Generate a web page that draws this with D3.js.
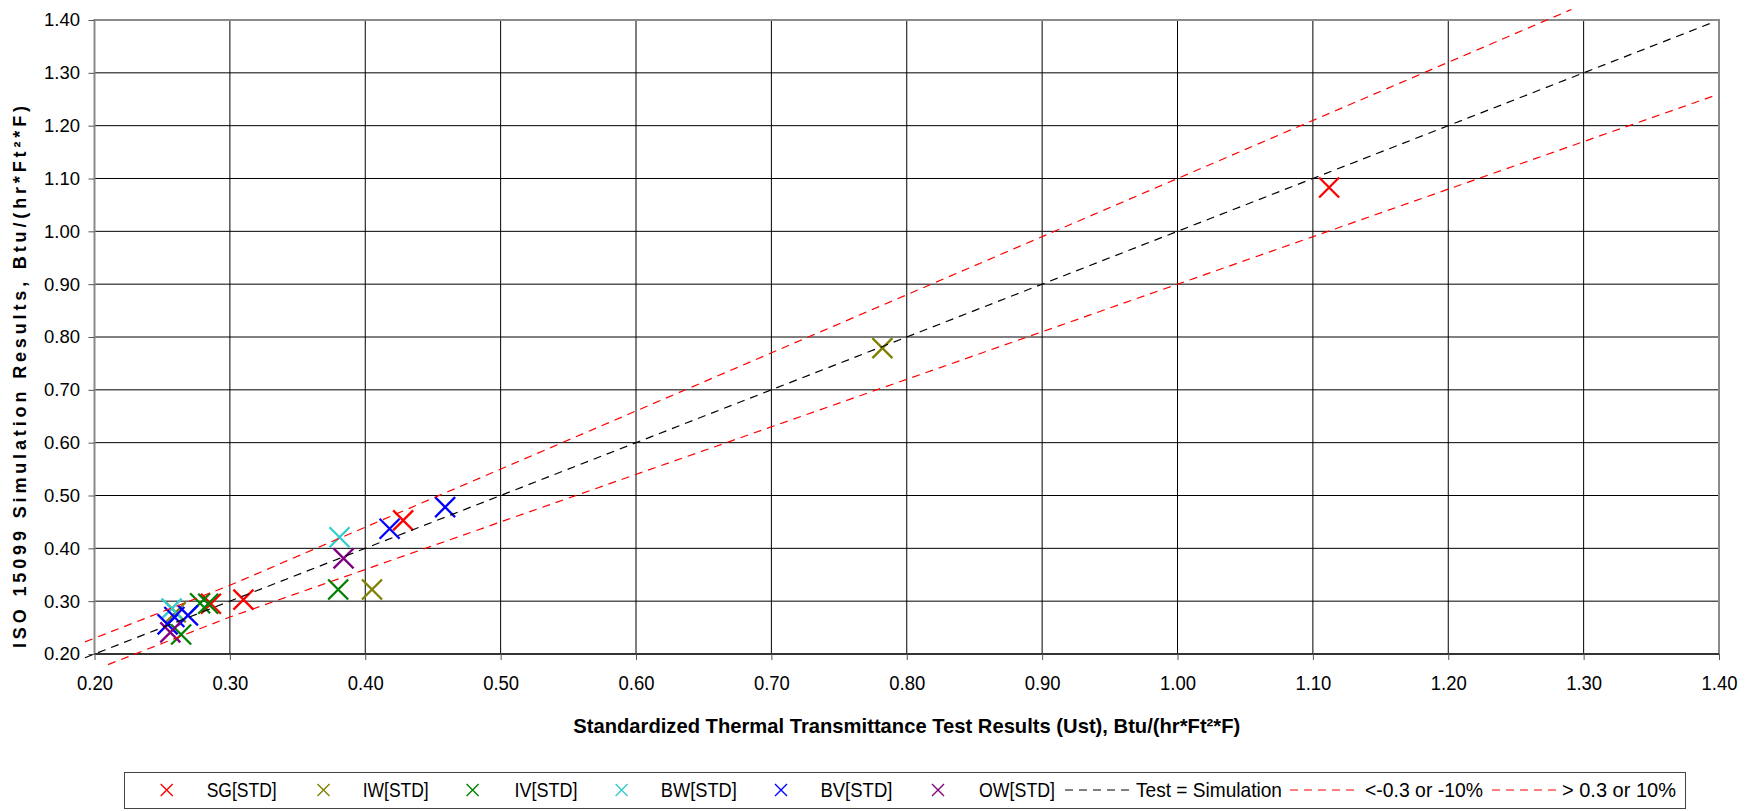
<!DOCTYPE html>
<html>
<head>
<meta charset="utf-8">
<script src="https://cdn.jsdelivr.net/npm/d3@7"></script>
<style>
body { margin: 0; background: #fff; }
svg { display: block; }
text { font-family: Arial, "Liberation Sans", sans-serif; fill: #000; }
</style>
</head>
<body>
<div id="chart-area"></div>
<script>
// ---- data ----
var seriesNames = ["SG[STD]", "IW[STD]", "IV[STD]", "BW[STD]", "BV[STD]", "OW[STD]"];

var sgX = [0.286, 0.310, 0.428, 1.112];
var sgY = [0.295, 0.303, 0.453, 1.083];

var iwX = [0.260, 0.405, 0.782];
var iwY = [0.279, 0.322, 0.779];

var ivX = [0.278, 0.284, 0.264, 0.380];
var ivY = [0.296, 0.295, 0.237, 0.322];

var bwX = [0.257, 0.381];
var bwY = [0.286, 0.421];

var bvX = [0.254, 0.259, 0.269, 0.418, 0.459];
var bvY = [0.256, 0.270, 0.273, 0.437, 0.478];

var owX = [0.256, 0.384];
var owY = [0.241, 0.381];

// reference lines
var equalX = [0.193, 1.395];
var equalY = [0.193, 1.395];
var upperX = [0.193, 0.30, 1.291];
var upperY = [0.223, 0.33, 1.420];
var lowerX = [0.210, 0.30, 1.398];
var lowerY = [0.180, 0.27, 1.258];

var xTicks = [0.2, 0.3, 0.4, 0.5, 0.6, 0.7, 0.8, 0.9, 1.0, 1.1, 1.2, 1.3, 1.4];
var yTicks = [0.2, 0.3, 0.4, 0.5, 0.6, 0.7, 0.8, 0.9, 1.0, 1.1, 1.2, 1.3, 1.4];

var lineNames = ["Test = Simulation", "<-0.3 or -10%", "> 0.3 or 10%"];

// ---- layout ----
var W = 1758, H = 811;
var margin = { left: 94.5, right: 1719, top: 20, bottom: 654 };
var colors = ["#ff0000", "#808000", "#008000", "#33cccc", "#0000ff", "#800080"];

var svg = d3.select("#chart-area")
    .append("svg")
        .attr("width", W)
        .attr("height", H);

var x = d3.scaleLinear().domain([0.2, 1.4]).range([margin.left, margin.right]);
var y = d3.scaleLinear().domain([0.2, 1.4]).range([margin.bottom, margin.top]);

// grid
svg.append("g").selectAll("line")
    .data(xTicks.slice(1, -1))
    .enter().append("line")
        .attr("x1", function(d){ return x(d); })
        .attr("x2", function(d){ return x(d); })
        .attr("y1", margin.top)
        .attr("y2", margin.bottom)
        .attr("stroke", "#000")
        .attr("stroke-width", 1);

svg.append("g").selectAll("line")
    .data(yTicks.slice(1, -1))
    .enter().append("line")
        .attr("x1", margin.left)
        .attr("x2", margin.right)
        .attr("y1", function(d){ return y(d); })
        .attr("y2", function(d){ return y(d); })
        .attr("stroke", "#000")
        .attr("stroke-width", 1);

// frame
svg.append("rect")
    .attr("x", margin.left)
    .attr("y", margin.top)
    .attr("width", margin.right - margin.left)
    .attr("height", margin.bottom - margin.top)
    .attr("fill", "none")
    .attr("stroke", "#8a8a8a")
    .attr("stroke-width", 2);
svg.append("line")
    .attr("x1", margin.left).attr("x2", margin.right)
    .attr("y1", margin.bottom).attr("y2", margin.bottom)
    .attr("stroke", "#333")
    .attr("stroke-width", 2);

// axes
var fmt = d3.format(".2f");
var yAxis = svg.append("g")
    .attr("transform", "translate(" + margin.left + ",0)")
    .call(d3.axisLeft(y).tickValues(yTicks).tickFormat(fmt).tickSize(6).tickPadding(8.5));
yAxis.select(".domain").remove();
yAxis.selectAll("line").attr("stroke", "#555");
yAxis.selectAll("text")
    .attr("font-size", "18.5px")
    .attr("font-family", "Arial, 'Liberation Sans', sans-serif");

var xAxis = svg.append("g")
    .attr("transform", "translate(0," + margin.bottom + ")")
    .call(d3.axisBottom(x).tickValues(xTicks).tickFormat(fmt).tickSize(6).tickPadding(15));
xAxis.select(".domain").remove();
xAxis.selectAll("line").attr("stroke", "#555");
xAxis.selectAll("text")
    .attr("font-size", "21px")
    .attr("font-family", "Arial, 'Liberation Sans', sans-serif")
    .attr("transform", "scale(0.88,1)");

// axis titles
svg.append("text")
    .attr("x", (margin.left + margin.right) / 2)
    .attr("y", 733)
    .attr("text-anchor", "middle")
    .attr("font-size", "21px")
    .attr("font-weight", "bold")
    .attr("textLength", 667)
    .attr("lengthAdjust", "spacingAndGlyphs")
    .text("Standardized Thermal Transmittance Test Results (Ust), Btu/(hr*Ft\u00b2*F)");

svg.append("text")
    .attr("transform", "translate(26,377) rotate(-90)")
    .attr("text-anchor", "middle")
    .attr("font-size", "18px")
    .attr("font-weight", "bold")
    .attr("textLength", 542)
    .attr("lengthAdjust", "spacing")
    .text("ISO 15099 Simulation Results, Btu/(hr*Ft\u00b2*F)");

// points
function cross(s) {
    return "M" + (-s) + "," + (-s) + "L" + s + "," + s + "M" + (-s) + "," + s + "L" + s + "," + (-s);
}

var seriesX = [sgX, iwX, ivX, bwX, bvX, owX];
var seriesY = [sgY, iwY, ivY, bwY, bvY, owY];

seriesX.forEach(function(xs, i){
    var pts = xs.map(function(v, j){ return [v, seriesY[i][j]]; });
    svg.append("g").selectAll("path")
        .data(pts)
        .enter().append("path")
            .attr("d", cross(10))
            .attr("transform", function(d){ return "translate(" + x(d[0]) + "," + y(d[1]) + ")"; })
            .attr("fill", "none")
            .attr("stroke", colors[i])
            .attr("stroke-width", 2.3);
});

// reference lines
var line = d3.line()
    .x(function(d){ return x(d[0]); })
    .y(function(d){ return y(d[1]); });

function pairs(a, b) { return a.map(function(v, i){ return [v, b[i]]; }); }

svg.append("path")
    .attr("d", line(pairs(equalX, equalY)))
    .attr("fill", "none")
    .attr("stroke", "#000")
    .attr("stroke-width", 1.2)
    .attr("stroke-dasharray", "8,6");
svg.append("path")
    .attr("d", line(pairs(lowerX, lowerY)))
    .attr("fill", "none")
    .attr("stroke", "#ff0000")
    .attr("stroke-width", 1.2)
    .attr("stroke-dasharray", "8,6");
svg.append("path")
    .attr("d", line(pairs(upperX, upperY)))
    .attr("fill", "none")
    .attr("stroke", "#ff0000")
    .attr("stroke-width", 1.2)
    .attr("stroke-dasharray", "8,6");

// legend
var lg = svg.append("g");
lg.append("rect")
    .attr("x", 124.5)
    .attr("y", 772.5)
    .attr("width", 1561)
    .attr("height", 36)
    .attr("fill", "#fff")
    .attr("stroke", "#444")
    .attr("stroke-width", 1);

var ly = 790;
var markerPos = [166.7, 323.5, 472.6, 621.6, 781, 938];
var markerText = [[206.7, 70], [362.7, 66], [514.4, 63], [660.8, 76], [820.4, 72], [979, 76]];

seriesNames.forEach(function(name, i){
    lg.append("path")
        .attr("d", cross(6))
        .attr("transform", "translate(" + markerPos[i] + "," + ly + ")")
        .attr("fill", "none")
        .attr("stroke", colors[i])
        .attr("stroke-width", 1.4);
    lg.append("text")
        .attr("x", markerText[i][0])
        .attr("y", ly)
        .attr("dy", "0.35em")
        .attr("font-size", "21px")
        .attr("textLength", markerText[i][1])
        .attr("lengthAdjust", "spacingAndGlyphs")
        .text(name);
});

var lineSample = [[1065, 1133], [1290, 1358], [1492, 1557]];
var lineText = [[1136, 146], [1365, 118], [1562, 114]];
var lineColors = ["#000", "#ff0000", "#ff0000"];

lineNames.forEach(function(name, i){
    lg.append("line")
        .attr("x1", lineSample[i][0])
        .attr("x2", lineSample[i][1])
        .attr("y1", ly)
        .attr("y2", ly)
        .attr("stroke", lineColors[i])
        .attr("stroke-width", 1.2)
        .attr("stroke-dasharray", "8,6");
    lg.append("text")
        .attr("x", lineText[i][0])
        .attr("y", ly)
        .attr("dy", "0.35em")
        .attr("font-size", "21px")
        .attr("textLength", lineText[i][1])
        .attr("lengthAdjust", "spacingAndGlyphs")
        .text(name);
});
</script>
</body>
</html>
